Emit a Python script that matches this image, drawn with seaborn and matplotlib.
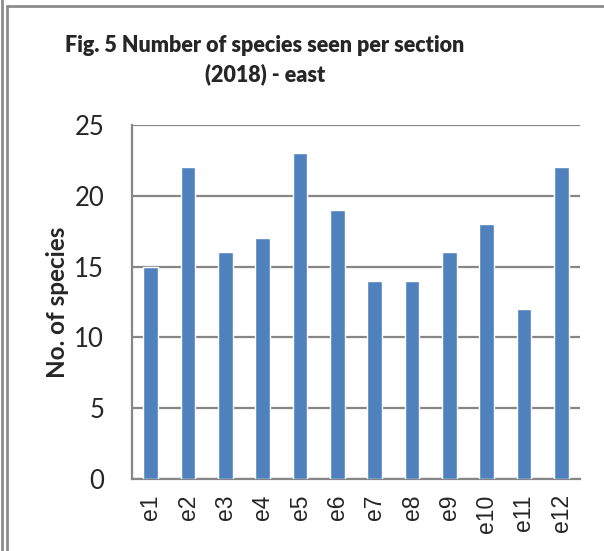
import numpy as np
import pandas as pd
import matplotlib
matplotlib.use("Agg")
import matplotlib.pyplot as plt
from matplotlib.lines import Line2D
import seaborn as sns

# Species counts per east section, 2018
sections = ["e1", "e2", "e3", "e4", "e5", "e6", "e7", "e8", "e9", "e10", "e11", "e12"]
species = [15, 22, 16, 17, 23, 19, 14, 14, 16, 18, 12, 22]
y_ticks = [0, 5, 10, 15, 20, 25]

title = "Fig. 5 Number of species seen per section\n(2018) - east"
y_label = "No. of species"

df = pd.DataFrame({"section": sections, "species": species})

sns.set_style("white")
plt.rcParams["font.family"] = ["Lato", "DejaVu Sans"]

W, H = 604, 551
fig = plt.figure(figsize=(W / 100, H / 100), dpi=100)
ax = fig.add_axes([132 / W, 1 - 479 / H, (580 - 132) / W, (479 - 125) / H])

grid_col = "#868686"
sns.barplot(data=df, x="section", y="species", color="#4F81BD", width=0.4,
            saturation=1, ax=ax, zorder=3)

ax.set_xlim(-0.5, len(sections) - 0.5)
ax.set_ylim(0, 25)
ax.set_yticks(y_ticks)
ax.yaxis.grid(True, color=grid_col, linewidth=1.6)
ax.set_axisbelow(True)

for side in ["top", "right"]:
    ax.spines[side].set_visible(False)
for side in ["left", "bottom"]:
    ax.spines[side].set_color(grid_col)
    ax.spines[side].set_linewidth(1.6)

# category labels centred, tick marks between categories
ax.set_xticks(np.arange(-0.5, len(sections), 1), minor=True)
ax.tick_params(axis="x", which="major", length=0, pad=11)
ax.tick_params(axis="x", which="minor", length=9, width=1.6, color=grid_col, direction="out")
ax.set_xticklabels(sections, rotation=90, fontsize=16.5, family=["Liberation Sans", "DejaVu Sans"])
ax.tick_params(axis="y", length=9, width=1.6, color=grid_col, direction="out", pad=11,
               labelsize=18.5)

ax.set_xlabel("")
ax.set_ylabel(y_label, fontsize=17.5, fontweight="bold", labelpad=4)

fig.text(265 / W, 1 - 60 / H, title, ha="center", va="center", fontsize=15.5,
         fontweight="heavy", linespacing=1.45)

# chart frame
frame = dict(color="#8C8C8C", linewidth=2, transform=None)
fig.add_artist(Line2D([1.5, 1.5], [0, H], **frame))
fig.add_artist(Line2D([6.5, 6.5], [0, H - 5.5], **frame))
fig.add_artist(Line2D([6.5, W], [H - 5.5, H - 5.5], **frame))

fig.savefig("out.png", dpi=100)
